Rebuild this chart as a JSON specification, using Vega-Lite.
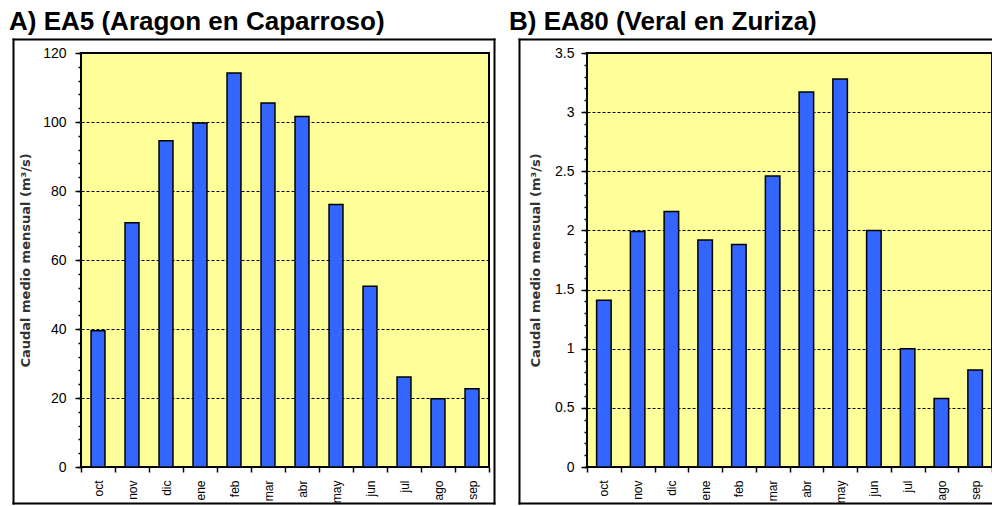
{
  "$schema": "https://vega.github.io/schema/vega-lite/v6.json",
  "padding": {"left": 8, "top": 8, "right": 0, "bottom": 0},
  "background": "white",
  "bounds": "flush",
  "spacing": 98,
  "datasets": {
    "ea5": [
      {"mes": "oct", "caudal": 39.5},
      {"mes": "nov", "caudal": 70.8},
      {"mes": "dic", "caudal": 94.6},
      {"mes": "ene", "caudal": 99.7},
      {"mes": "feb", "caudal": 114.2},
      {"mes": "mar", "caudal": 105.5},
      {"mes": "abr", "caudal": 101.6},
      {"mes": "may", "caudal": 76.1},
      {"mes": "jun", "caudal": 52.4},
      {"mes": "jul", "caudal": 26.1},
      {"mes": "ago", "caudal": 19.8},
      {"mes": "sep", "caudal": 22.7}
    ],
    "ea80": [
      {"mes": "oct", "caudal": 1.41},
      {"mes": "nov", "caudal": 1.99},
      {"mes": "dic", "caudal": 2.16},
      {"mes": "ene", "caudal": 1.92},
      {"mes": "feb", "caudal": 1.88},
      {"mes": "mar", "caudal": 2.46},
      {"mes": "abr", "caudal": 3.17},
      {"mes": "may", "caudal": 3.28},
      {"mes": "jun", "caudal": 2.0},
      {"mes": "jul", "caudal": 1.0},
      {"mes": "ago", "caudal": 0.58},
      {"mes": "sep", "caudal": 0.82}
    ]
  },
  "config": {
    "view": {"fill": "#ffff99", "stroke": "#000000", "strokeWidth": 2},
    "font": "Liberation Sans",
    "title": {"font": "Liberation Sans", "fontSize": 26, "fontWeight": "bold", "color": "#000000", "anchor": "start", "frame": "group"},
    "axis": {"labelFont": "Liberation Sans", "labelColor": "#000000", "tickColor": "#000000", "domainColor": "#000000"}
  },
  "hconcat": [
    {
      "title": {"text": "A) EA5 (Aragon en Caparroso)", "dx": -72, "offset": 4},
      "data": {"name": "ea5"},
      "width": 408,
      "height": 414,
      "layer": [
        {
          "mark": {"type": "bar", "width": {"band": 0.41}, "fill": "#3366ff", "stroke": "#000000", "strokeWidth": 1.5},
          "encoding": {
            "x": {"field": "mes", "type": "nominal", "sort": null, "scale": {"paddingInner": 0, "paddingOuter": 0},
              "axis": {"title": null, "orient": "bottom", "tickBand": "extent", "labelAngle": 270, "labelFontSize": 12, "tickSize": 5, "tickWidth": 1.5, "labelPadding": 8, "domain": false, "grid": false}},
            "y": {"field": "caudal", "type": "quantitative", "scale": {"domain": [0, 120], "nice": false},
              "axis": {"values": [0, 20, 40, 60, 80, 100, 120], "title": "Caudal medio mensual (m³/s)", "grid": true, "gridColor": "#000000", "gridDash": [3, 2], "gridWidth": 1, "tickSize": 6, "tickWidth": 1.5, "labelFontSize": 14, "labelPadding": 9, "domain": false, "titleFont": "DejaVu Sans", "titleFontSize": 13, "titleFontWeight": "bold", "titleColor": "#333333", "titlePadding": 10}}
          }
        },
        {
          "mark": {"type": "point", "opacity": 0, "size": 0},
          "encoding": {
            "y": {"datum": 0, "type": "quantitative", "scale": {"domain": [0, 120], "nice": false},
              "axis": {"orient": "left", "values": [0, 4, 8, 12, 16, 20, 24, 28, 32, 36, 40, 44, 48, 52, 56, 60, 64, 68, 72, 76, 80, 84, 88, 92, 96, 100, 104, 108, 112, 116, 120], "labels": false, "domain": false, "grid": false, "tickSize": 3, "tickWidth": 1.5, "title": null}}
          }
        },
        {
          "mark": {"type": "point", "opacity": 0, "size": 0},
          "encoding": {
            "x": {"datum": 0, "type": "quantitative", "scale": {"domain": [0, 1], "range": [-68, 413], "nice": false},
              "axis": {"orient": "top", "offset": 14, "domain": true, "domainWidth": 2, "domainCap": "square", "ticks": false, "labels": false, "grid": false, "title": null}},
            "y": {"datum": 0, "type": "quantitative", "scale": {"domain": [0, 1], "range": [450, -14], "nice": false},
              "axis": {"orient": "left", "offset": 68, "domain": true, "domainWidth": 2, "domainCap": "square", "ticks": false, "labels": false, "grid": false, "title": null}}
          }
        },
        {
          "mark": {"type": "point", "opacity": 0, "size": 0},
          "encoding": {
            "x": {"datum": 0, "type": "quantitative", "scale": {"domain": [0, 1], "range": [-68, 413], "nice": false},
              "axis": {"orient": "bottom", "offset": 36, "domain": true, "domainWidth": 2, "domainCap": "square", "ticks": false, "labels": false, "grid": false, "title": null}},
            "y": {"datum": 0, "type": "quantitative", "scale": {"domain": [0, 1], "range": [450, -14], "nice": false},
              "axis": {"orient": "right", "offset": 5, "domain": true, "domainWidth": 2, "domainCap": "square", "ticks": false, "labels": false, "grid": false, "title": null}}
          }
        }
      ],
      "resolve": {"scale": {"x": "independent", "y": "independent"}, "axis": {"x": "independent", "y": "independent"}}
    },
    {
      "title": {"text": "B) EA80 (Veral en Zuriza)", "dx": -78, "offset": 4},
      "data": {"name": "ea80"},
      "width": 405,
      "height": 414,
      "layer": [
        {
          "mark": {"type": "bar", "width": {"band": 0.43}, "fill": "#3366ff", "stroke": "#000000", "strokeWidth": 1.5},
          "encoding": {
            "x": {"field": "mes", "type": "nominal", "sort": null, "scale": {"paddingInner": 0, "paddingOuter": 0},
              "axis": {"title": null, "orient": "bottom", "tickBand": "extent", "labelAngle": 270, "labelFontSize": 12, "tickSize": 5, "tickWidth": 1.5, "labelPadding": 8, "domain": false, "grid": false}},
            "y": {"field": "caudal", "type": "quantitative", "scale": {"domain": [0, 3.5], "nice": false},
              "axis": {"values": [0, 0.5, 1, 1.5, 2, 2.5, 3, 3.5], "format": "~g", "title": "Caudal medio mensual (m³/s)", "grid": true, "gridColor": "#000000", "gridDash": [3, 2], "gridWidth": 1, "tickSize": 6, "tickWidth": 1.5, "labelFontSize": 14, "labelPadding": 7, "domain": false, "titleFont": "DejaVu Sans", "titleFontSize": 13, "titleFontWeight": "bold", "titleColor": "#333333", "titlePadding": 12}}
          }
        },
        {
          "mark": {"type": "point", "opacity": 0, "size": 0},
          "encoding": {
            "y": {"datum": 0, "type": "quantitative", "scale": {"domain": [0, 3.5], "nice": false},
              "axis": {"orient": "left", "values": [0, 0.1, 0.2, 0.3, 0.4, 0.5, 0.6, 0.7, 0.8, 0.9, 1, 1.1, 1.2, 1.3, 1.4, 1.5, 1.6, 1.7, 1.8, 1.9, 2, 2.1, 2.2, 2.3, 2.4, 2.5, 2.6, 2.7, 2.8, 2.9, 3, 3.1, 3.2, 3.3, 3.4, 3.5], "labels": false, "domain": false, "grid": false, "tickSize": 3, "tickWidth": 1.5, "title": null}}
          }
        },
        {
          "mark": {"type": "point", "opacity": 0, "size": 0},
          "encoding": {
            "x": {"datum": 0, "type": "quantitative", "scale": {"domain": [0, 1], "range": [-68, 406], "nice": false},
              "axis": {"orient": "top", "offset": 14, "domain": true, "domainWidth": 2, "domainCap": "square", "ticks": false, "labels": false, "grid": false, "title": null}},
            "y": {"datum": 0, "type": "quantitative", "scale": {"domain": [0, 1], "range": [450, -14], "nice": false},
              "axis": {"orient": "left", "offset": 68, "domain": true, "domainWidth": 2, "domainCap": "square", "ticks": false, "labels": false, "grid": false, "title": null}}
          }
        },
        {
          "mark": {"type": "point", "opacity": 0, "size": 0},
          "encoding": {
            "x": {"datum": 0, "type": "quantitative", "scale": {"domain": [0, 1], "range": [-68, 406], "nice": false},
              "axis": {"orient": "bottom", "offset": 36, "domain": true, "domainWidth": 2, "domainCap": "square", "ticks": false, "labels": false, "grid": false, "title": null}}
          }
        }
      ],
      "resolve": {"scale": {"x": "independent", "y": "independent"}, "axis": {"x": "independent", "y": "independent"}}
    }
  ]
}
